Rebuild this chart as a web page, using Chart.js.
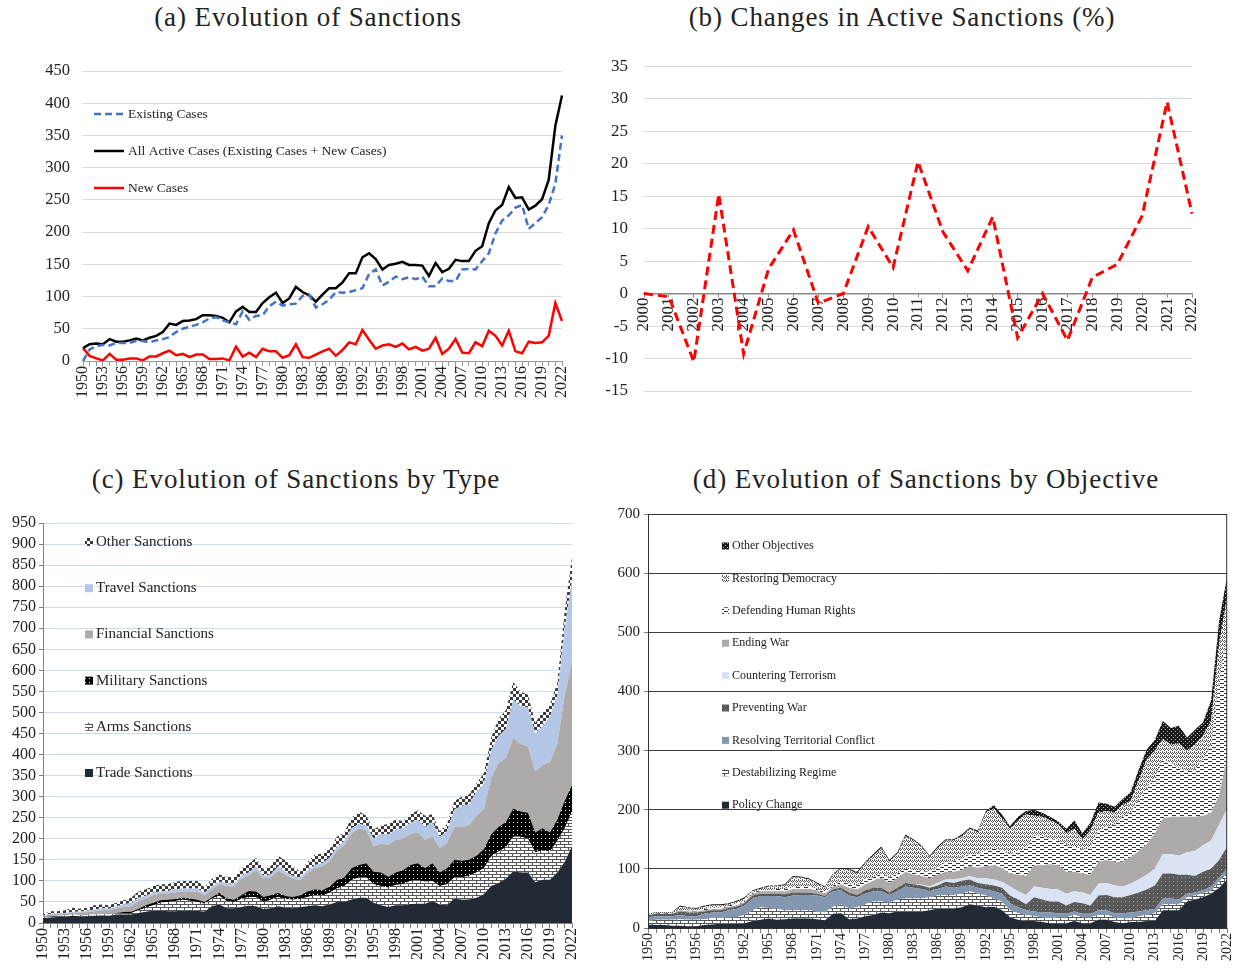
<!DOCTYPE html>
<html>
<head>
<meta charset="utf-8">
<script src="https://cdn.jsdelivr.net/npm/chart.js@4.4.0/dist/chart.umd.min.js"></script>
<style>
  body { margin: 0; background: #fff; width: 1244px; height: 973px; position: relative; overflow: hidden;
         font-family: "Liberation Serif", "Times New Roman", serif; }
  canvas { position: absolute; }
  .title { position: absolute; font-size: 27px; line-height: 27px; color: #222; white-space: nowrap;
           transform: translateX(-50%); letter-spacing: 0.9px; }
</style>
</head>
<body>
<div class="title" style="left:308px;top:4px">(a) Evolution of Sanctions</div>
<div class="title" style="left:902px;top:4px">(b) Changes in Active Sanctions (%)</div>
<div class="title" style="left:296px;top:466px">(c) Evolution of Sanctions by Type</div>
<div class="title" style="left:926px;top:466px">(d) Evolution of Sanctions by Objective</div>

<canvas id="chartA" width="600" height="380" style="left:0;top:40px"></canvas>
<canvas id="chartB" width="644" height="380" style="left:600px;top:40px"></canvas>
<canvas id="chartC" width="600" height="468" style="left:0;top:505px"></canvas>
<canvas id="chartD" width="644" height="473" style="left:600px;top:500px"></canvas>

<script>
// years on the x axis (1950-2022)
const yearLabels = [
  '1950','1951','1952','1953','1954','1955','1956','1957','1958','1959',
  '1960','1961','1962','1963','1964','1965','1966','1967','1968','1969',
  '1970','1971','1972','1973','1974','1975','1976','1977','1978','1979',
  '1980','1981','1982','1983','1984','1985','1986','1987','1988','1989',
  '1990','1991','1992','1993','1994','1995','1996','1997','1998','1999',
  '2000','2001','2002','2003','2004','2005','2006','2007','2008','2009',
  '2010','2011','2012','2013','2014','2015','2016','2017','2018','2019',
  '2020','2021','2022'];
const changeYears = ['2000','2001','2002','2003','2004','2005','2006','2007','2008','2009',
  '2010','2011','2012','2013','2014','2015','2016','2017','2018','2019','2020','2021','2022'];

// (a) cases
const existingCases = [0,18,23,25,24,28,28,28,31,31, 29,32,34,37,45,50,53,56,60,66,
  68,63,60,57,77,64,70,71,85,92, 86,88,89,101,103,83,88,95,107,106,
  107,110,113,135,142,117,123,131,127,130, 127,131,116,116,128,124,124,142,143,142,
  155,167,198,218,226,238,242,205,214,223, 242,275,350];
const allActiveCases = [20,26,27,26,34,30,30,32,35,32, 36,39,45,58,56,62,63,65,71,71,
  70,67,60,77,84,76,76,90,99,106, 90,97,115,107,102,92,103,113,113,122,
  136,136,161,167,158,142,149,151,154,149, 149,148,132,152,138,143,157,155,155,171,
  178,214,234,242,270,253,254,235,241,251, 281,365,412];
const newCases = [20,8,4,1,11,2,2,4,4,1, 7,7,12,16,9,11,6,10,10,3,
  3,4,1,22,7,13,6,19,15,15, 5,9,26,6,5,10,15,19,8,17,
  29,26,48,33,19,24,26,22,27,18, 22,16,19,36,11,19,34,13,12,29,
  23,47,39,24,47,15,12,30,28,29, 39,90,62];

// (b) % change in active sanctions
const activeChange = [0,-0.5,-10.5,15.3,-9.3,3.8,9.8,-1.5,0,10.3,4,20.3,9.5,3.5,11.8,-6.8,0,-7.2,2.5,4.5,12,29.5,12.3];

// (c) by type
const tradeSanctions = [12,13,14,15,17,16,16,17,18,17, 20,20,20,24,27,29,30,28,28,29,
  30,29,27,40,44,35,35,38,41,40, 33,35,40,37,35,38,40,42,40,44,
  50,50,56,60,60,48,42,38,42,42, 45,46,46,52,44,42,58,55,56,60,
  68,88,95,105,123,120,120,97,103,103, 120,145,183];
const armsSanctions = [2,3,3,3,3,3,3,3,3,3, 3,4,4,6,9,13,18,22,24,26,
  23,21,19,18,21,17,15,19,21,22, 17,20,22,20,20,19,22,24,25,28,
  32,38,46,48,48,44,46,46,48,50, 55,56,52,48,44,50,50,53,56,60,
  62,70,75,75,82,85,80,71,69,67, 75,80,82];
const militarySanctions = [0,0,0,0,0,0,0,0,0,0, 1,2,3,4,6,6,6,5,5,5,
  5,5,4,4,7,6,5,9,14,13, 12,11,10,7,7,9,13,14,13,14,
  20,20,28,30,34,30,32,26,30,33, 38,40,32,42,32,38,42,40,38,40,
  45,52,58,60,67,60,62,47,53,45, 50,65,63];
const financialSanctions = [2,4,4,4,5,5,7,8,9,10, 11,12,13,18,16,18,16,15,16,15,
  17,19,16,18,20,30,31,39,36,50, 44,42,52,51,43,36,43,50,57,60,
  70,77,82,87,78,60,68,75,78,75, 74,73,68,63,58,60,78,80,82,95,
  95,135,152,152,168,160,158,145,150,167, 180,250,292];
const travelSanctions = [2,2,2,2,2,3,3,4,5,4, 5,6,8,8,7,6,5,6,7,7,
  7,8,6,8,6,7,6,7,8,10, 6,7,11,7,7,6,7,8,7,9,
  8,10,13,10,12,18,24,25,24,25, 26,30,30,35,27,28,42,50,50,57,
  60,65,65,68,90,90,92,90,93,108, 115,160,195];
const otherSanctions = [2,6,5,6,9,7,7,10,9,8, 8,10,12,15,15,16,17,16,18,18,
  18,18,13,17,17,15,16,18,20,20, 16,20,25,26,23,14,20,24,23,20,
  25,20,25,30,23,22,20,25,23,17, 20,23,27,18,13,17,20,22,23,20,
  25,30,40,45,42,35,30,25,34,28, 30,40,55];

// (d) by objective
const policyChange = [6,5,5,4,4,3,3,5,6,7, 7,7,8,12,14,16,14,15,16,16,
  16,15,13,24,25,15,16,20,22,26, 25,28,28,28,28,30,33,33,33,35,
  40,38,35,36,30,18,14,12,12,10, 8,8,8,12,8,8,14,14,10,8,
  10,10,12,12,30,30,30,45,48,52, 58,68,82];
const destabilizingRegime = [6,9,9,10,11,11,11,10,11,10, 11,11,14,18,21,18,18,15,14,14,
  14,13,13,12,15,18,19,20,23,19, 18,20,22,22,22,22,22,23,23,23,
  22,20,20,14,15,12,11,10,8,8, 8,10,10,10,10,10,8,8,8,8,
  6,10,10,13,10,10,10,7,7,6, 6,10,10];
const territorialConflict = [6,6,6,6,7,6,6,9,9,9, 12,14,16,20,19,20,22,22,25,26,
  26,27,26,26,24,22,17,18,17,17, 13,14,20,18,16,10,11,14,12,12,
  10,10,10,12,13,12,10,8,8,8, 10,7,6,6,6,6,8,8,7,9,
  10,8,8,7,10,10,8,6,5,6, 6,7,8];
const preventingWar = [4,4,4,4,6,6,6,4,4,4, 4,4,4,5,4,4,4,5,5,4,
  4,3,2,4,4,5,4,6,6,6, 4,6,6,6,6,6,6,8,8,10,
  10,8,9,10,10,13,13,10,24,22, 19,20,14,16,18,14,25,26,27,27,
  30,32,35,40,42,42,42,32,28,31, 30,30,38];
const counteringTerrorism = [0,0,0,0,0,0,0,0,0,0, 0,0,0,0,0,0,0,0,0,0,
  0,0,0,0,0,0,0,0,0,0, 0,0,0,0,1,2,4,4,6,4,
  6,8,10,10,10,15,14,16,18,20, 21,20,20,18,18,18,20,20,20,18,
  19,22,25,28,33,33,32,38,42,45, 48,60,64];
const endingWar = [0,0,0,0,2,2,2,2,2,2, 2,2,2,3,4,4,4,5,5,6,
  6,6,4,4,6,8,9,10,12,17, 16,16,19,16,15,14,14,13,13,14,
  17,18,21,24,24,22,28,32,36,38, 42,41,37,33,32,34,37,39,40,42,
  45,48,52,60,60,63,66,60,58,50, 47,50,88];
const humanRights = [0,1,1,1,1,1,1,2,2,2, 2,3,2,2,2,2,4,4,3,4,
  4,2,2,2,4,7,7,8,6,7, 9,8,5,8,8,11,12,17,17,20,
  20,23,25,29,28,33,40,47,49,49, 42,42,45,43,40,45,53,55,63,76,
  75,85,93,95,100,92,82,77,80,95, 115,195,200];
const restoringDemocracy = [2,1,1,1,5,5,3,4,4,4, 2,3,4,2,2,6,4,6,18,15,
  12,9,8,18,22,23,20,28,36,43, 27,33,55,50,42,25,33,36,36,37,
  43,37,65,67,55,43,52,57,35,33, 32,27,20,30,18,30,30,28,20,20,
  20,35,50,45,35,30,42,35,42,40, 40,60,70];
const otherObjectives = [0,1,1,1,2,1,2,2,2,2, 2,2,2,2,2,2,2,2,2,2,
  2,2,2,2,2,2,3,2,3,3, 3,3,3,2,2,2,3,2,2,3,
  2,3,3,6,7,4,6,6,10,7, 6,5,8,14,10,13,17,12,10,10,
  15,18,17,18,30,28,30,22,25,23, 35,40,35];

Chart.defaults.font.family = '"Liberation Serif", "Times New Roman", serif';
Chart.defaults.color = '#222';
Chart.defaults.animation = false;

// small fill patterns like the office-style hatches
function makePattern(w, h, bg, fg, draw) {
  const c = document.createElement('canvas');
  c.width = w; c.height = h;
  const g = c.getContext('2d');
  g.fillStyle = bg; g.fillRect(0, 0, w, h);
  g.fillStyle = fg;
  draw(g);
  return g.createPattern(c, 'repeat');
}
const brick = makePattern(8, 6, '#fff', '#555', g => {
  g.fillRect(0, 0, 8, 1); g.fillRect(0, 3, 8, 1); g.fillRect(0, 0, 1, 3); g.fillRect(4, 3, 1, 3);
});
const blackDots = makePattern(4, 4, '#000', '#fff', g => { g.fillRect(1, 1, 1, 1); });
const checker = makePattern(6, 6, '#fff', '#3a3a3a', g => { g.fillRect(0, 0, 3, 3); g.fillRect(3, 3, 3, 3); });
const greyDots = makePattern(4, 4, '#595959', '#9a9a9a', g => { g.fillRect(1, 1, 1, 1); });
const dashes = makePattern(8, 4, '#fff', '#333', g => { g.fillRect(0, 1, 4, 1); g.fillRect(4, 3, 4, 1); });
const zigzag = makePattern(4, 4, '#fff', '#555', g => {
  g.fillRect(0, 0, 1, 1); g.fillRect(1, 1, 1, 1); g.fillRect(2, 0, 1, 1); g.fillRect(3, 1, 1, 1);
  g.fillRect(0, 2, 1, 1); g.fillRect(2, 3, 1, 1);
});
const beads = makePattern(4, 4, '#1a1a1a', '#bbb', g => { g.fillRect(1, 1, 1, 1); g.fillRect(3, 3, 1, 1); });

// legend drawn inside the plot, top to bottom
const insideLegend = {
  id: 'insideLegend',
  afterDraw(chart, args, o) {
    const ctx = chart.ctx;
    ctx.save();
    ctx.font = o.font;
    ctx.textBaseline = 'middle';
    o.items.forEach((idx, i) => {
      const ds = chart.data.datasets[idx];
      const y = o.y + i * o.dy;
      if (o.kind === 'line') {
        ctx.strokeStyle = ds.borderColor;
        ctx.lineWidth = ds.borderWidth;
        ctx.setLineDash(ds.borderDash || []);
        ctx.beginPath(); ctx.moveTo(o.x, y); ctx.lineTo(o.x + o.sw, y); ctx.stroke();
        ctx.setLineDash([]);
      } else {
        ctx.fillStyle = ds.backgroundColor;
        ctx.fillRect(o.x, y - o.sw / 2, o.sw, o.sw);
      }
      ctx.fillStyle = '#222';
      ctx.fillText(ds.label, o.x + o.sw + o.gap, y);
    });
    ctx.restore();
  }
};

const boxBorder = {
  id: 'boxBorder',
  afterDatasetsDraw(chart) {
    const a = chart.chartArea, ctx = chart.ctx;
    ctx.save();
    ctx.strokeStyle = '#333';
    ctx.lineWidth = 1;
    ctx.strokeRect(a.left + 0.5, a.top + 0.5, a.right - a.left - 1, a.bottom - a.top);
    ctx.restore();
  }
};

function everyThird(v, i) { return i % 3 === 0 ? yearLabels[i] : ''; }

// (a)
new Chart(document.getElementById('chartA'), {
  type: 'line',
  data: {
    labels: yearLabels,
    datasets: [
      { label: 'Existing Cases', data: existingCases, borderColor: '#4472c4', borderWidth: 2.5, borderDash: [7, 4] },
      { label: 'All Active Cases (Existing Cases + New Cases)', data: allActiveCases, borderColor: '#000', borderWidth: 2.5 },
      { label: 'New Cases', data: newCases, borderColor: '#ff0000', borderWidth: 2.5 }
    ]
  },
  options: {
    responsive: false,
    devicePixelRatio: 1,
    layout: { padding: { left: 0, right: 38, top: 31, bottom: 0 } },
    elements: { point: { radius: 0 }, line: { tension: 0 } },
    plugins: {
      legend: { display: false }, tooltip: { enabled: false },
      insideLegend: { kind: 'line', items: [0, 1, 2], x: 94, y: 74, dy: 37, sw: 30, gap: 4, font: '13.5px "Liberation Serif"' }
    },
    scales: {
      x: {
        grid: { drawOnChartArea: false, drawTicks: true, tickLength: 5, color: '#999' },
        border: { color: '#999' },
        ticks: { autoSkip: false, minRotation: 90, maxRotation: 90, padding: 0, font: { size: 16 }, callback: everyThird },
        afterFit: s => { s.height = 59; }
      },
      y: {
        min: 0, max: 450,
        grid: { color: '#d9d9d9', drawTicks: false },
        border: { display: false },
        ticks: { stepSize: 50, padding: 13, font: { size: 16.5 } },
        afterFit: s => { s.width = 83; }
      }
    }
  },
  plugins: [insideLegend]
});

// (b)
new Chart(document.getElementById('chartB'), {
  type: 'line',
  data: {
    labels: changeYears,
    datasets: [
      { label: 'Change in active sanctions (%)', data: activeChange, borderColor: '#ff0000', borderWidth: 3, borderDash: [9, 5] }
    ]
  },
  options: {
    responsive: false,
    devicePixelRatio: 1,
    layout: { padding: { left: 0, right: 52, top: 24, bottom: 29 } },
    elements: { point: { radius: 0 }, line: { tension: 0 } },
    plugins: { legend: { display: false }, tooltip: { enabled: false } },
    scales: {
      x: {
        position: { y: 0 },
        grid: { drawOnChartArea: false, drawTicks: true, tickLength: 3, color: '#888' },
        border: { color: '#888', width: 1.5 },
        ticks: { autoSkip: false, minRotation: 90, maxRotation: 90, padding: 1, font: { size: 17 } }
      },
      y: {
        min: -15, max: 35,
        grid: { color: c => (c.tick && c.tick.value === 0 ? 'rgba(0,0,0,0)' : '#d9d9d9'), drawTicks: false },
        border: { display: false },
        ticks: { stepSize: 5, padding: 16, font: { size: 17 } },
        afterFit: s => { s.width = 44; }
      }
    }
  }
});

// (c)
const typeSets = [
  { label: 'Trade Sanctions', data: tradeSanctions, backgroundColor: '#222a35', fill: 'origin' },
  { label: 'Arms Sanctions', data: armsSanctions, backgroundColor: brick, fill: '-1' },
  { label: 'Military Sanctions', data: militarySanctions, backgroundColor: blackDots, fill: '-1' },
  { label: 'Financial Sanctions', data: financialSanctions, backgroundColor: '#aeaaaa', fill: '-1' },
  { label: 'Travel Sanctions', data: travelSanctions, backgroundColor: '#b4c7e7', fill: '-1' },
  { label: 'Other Sanctions', data: otherSanctions, backgroundColor: checker, fill: '-1' }
];
typeSets.forEach(d => { d.borderWidth = 0; d.pointRadius = 0; });

new Chart(document.getElementById('chartC'), {
  type: 'line',
  data: { labels: yearLabels, datasets: typeSets },
  options: {
    responsive: false,
    devicePixelRatio: 1,
    layout: { padding: { left: 0, right: 28, top: 18, bottom: 0 } },
    elements: { line: { tension: 0 } },
    plugins: {
      legend: { display: false }, tooltip: { enabled: false },
      insideLegend: { kind: 'box', items: [5, 4, 3, 2, 1, 0], x: 85, y: 37, dy: 46.2, sw: 8, gap: 3, font: '15px "Liberation Serif"' }
    },
    scales: {
      x: {
        grid: { drawOnChartArea: false, drawTicks: true, tickLength: 5, color: '#7f7f7f' },
        border: { color: '#7f7f7f' },
        ticks: { autoSkip: false, minRotation: 90, maxRotation: 90, padding: 0, font: { size: 16 }, callback: everyThird },
        afterFit: s => { s.height = 50; }
      },
      y: {
        stacked: true, min: 0, max: 950,
        grid: { color: '#d0dbf0', tickColor: '#7f7f7f', tickLength: 4 },
        border: { color: '#7f7f7f' },
        ticks: { stepSize: 50, autoSkip: false, padding: 3, font: { size: 16 } },
        afterFit: s => { s.width = 43; }
      }
    }
  },
  plugins: [insideLegend]
});

// (d)
const objectiveSets = [
  { label: 'Policy Change', data: policyChange, backgroundColor: '#222a35', fill: 'origin' },
  { label: 'Destabilizing Regime', data: destabilizingRegime, backgroundColor: brick, fill: '-1' },
  { label: 'Resolving Territorial Conflict', data: territorialConflict, backgroundColor: '#8497b0', fill: '-1' },
  { label: 'Preventing War', data: preventingWar, backgroundColor: greyDots, fill: '-1' },
  { label: 'Countering Terrorism', data: counteringTerrorism, backgroundColor: '#dae3f3', fill: '-1' },
  { label: 'Ending War', data: endingWar, backgroundColor: '#aeaaaa', fill: '-1' },
  { label: 'Defending Human Rights', data: humanRights, backgroundColor: dashes, fill: '-1' },
  { label: 'Restoring Democracy', data: restoringDemocracy, backgroundColor: zigzag, fill: '-1' },
  { label: 'Other Objectives', data: otherObjectives, backgroundColor: beads, fill: '-1' }
];
objectiveSets.forEach(d => { d.borderWidth = 0; d.pointRadius = 0; });

new Chart(document.getElementById('chartD'), {
  type: 'line',
  data: { labels: yearLabels, datasets: objectiveSets },
  options: {
    responsive: false,
    devicePixelRatio: 1,
    layout: { padding: { left: 0, right: 12, top: 14, bottom: 0 } },
    elements: { line: { tension: 0 } },
    plugins: {
      legend: { display: false }, tooltip: { enabled: false },
      insideLegend: { kind: 'box', items: [8, 7, 6, 5, 4, 3, 2, 1, 0], x: 122, y: 46, dy: 32.4, sw: 7, gap: 3, font: '12px "Liberation Serif"' }
    },
    scales: {
      x: {
        grid: { drawOnChartArea: false, drawTicks: true, tickLength: 5, color: '#7f7f7f' },
        border: { color: '#7f7f7f' },
        ticks: { autoSkip: false, minRotation: 90, maxRotation: 90, padding: 0, font: { size: 14 }, callback: everyThird },
        afterFit: s => { s.height = 45; }
      },
      y: {
        stacked: true, min: 0, max: 700,
        grid: { color: '#3c3c3c', tickColor: '#7f7f7f', tickLength: 4 },
        border: { color: '#7f7f7f' },
        ticks: { stepSize: 100, padding: 4, font: { size: 15 } },
        afterFit: s => { s.width = 48; }
      }
    }
  },
  plugins: [boxBorder, insideLegend]
});
</script>
</body>
</html>
